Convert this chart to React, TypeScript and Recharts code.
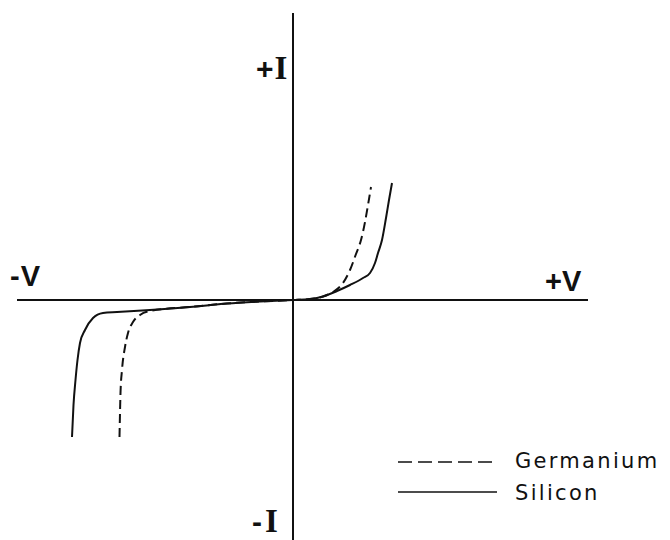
import { Line, LineChart, ReferenceLine, XAxis, YAxis } from "recharts";

// voltage / current readings, arbitrary units (origin at the axes crossing)
const siliconV = [
  -2.21, -2.195, -2.175, -2.155, -2.13, -2.08, -2.0, -1.9, -1.76, -1.43, -1.03, -0.66, -0.33, 0,
  0.17, 0.3, 0.44, 0.57, 0.7, 0.77, 0.82, 0.85, 0.89, 0.93, 0.96, 0.99,
];
const siliconI = [
  -1.37, -1.05, -0.8, -0.6, -0.43, -0.3, -0.18, -0.13, -0.12, -0.1, -0.07, -0.035, -0.015, 0,
  0.01, 0.035, 0.09, 0.15, 0.22, 0.27, 0.37, 0.47, 0.6, 0.82, 1.0, 1.17,
];

const germaniumV = [
  -1.735, -1.73, -1.725, -1.71, -1.68, -1.65, -1.6, -1.53, -1.43, -1.03, -0.66, -0.33, 0,
  0.17, 0.3, 0.4, 0.5, 0.57, 0.63, 0.68, 0.72, 0.75, 0.78,
];
const germaniumI = [
  -1.37, -1.13, -0.93, -0.7, -0.47, -0.33, -0.22, -0.15, -0.11, -0.07, -0.035, -0.015, 0,
  0.01, 0.035, 0.08, 0.17, 0.3, 0.46, 0.6, 0.78, 0.95, 1.13,
];

const legendNames = ["Germanium", "Silicon"];

const silicon = siliconV.map((v, k) => ({ v, i: siliconI[k] }));
const germanium = germaniumV.map((v, k) => ({ v, i: germaniumI[k] }));

const ink = "#111";
const sans = "'Liberation Sans', Arial, sans-serif";
const serif = "'Liberation Serif', serif";

export default function App() {
  return (
    <div style={{ position: "absolute", left: 0, top: 0, width: 670, height: 540, background: "#fff" }}>
      <LineChart width={670} height={540} margin={{ top: 0, right: 0, bottom: 0, left: 0 }}>
        <XAxis type="number" dataKey="v" domain={[-2.93, 3.77]} hide allowDataOverflow />
        <YAxis type="number" dataKey="i" domain={[-2.4, 3.0]} hide allowDataOverflow />
        <ReferenceLine
          segment={[{ x: 0, y: 2.87 }, { x: 0, y: -2.4 }]}
          stroke={ink}
          strokeWidth={2}
        />
        <ReferenceLine
          segment={[{ x: -2.76, y: 0 }, { x: 2.95, y: 0 }]}
          stroke={ink}
          strokeWidth={2}
        />
        <Line
          data={germanium}
          dataKey="i"
          type="monotone"
          stroke={ink}
          strokeWidth={2}
          strokeDasharray="9 5"
          strokeLinecap="butt"
          dot={false}
          activeDot={false}
          isAnimationActive={false}
        />
        <Line
          data={silicon}
          dataKey="i"
          type="monotone"
          stroke={ink}
          strokeWidth={2}
          strokeLinecap="butt"
          dot={false}
          activeDot={false}
          isAnimationActive={false}
        />
      </LineChart>

      <svg
        width={670}
        height={540}
        style={{ position: "absolute", left: 0, top: 0, pointerEvents: "none" }}
      >
        <text x={256} y={79} fontFamily={sans} fontSize={30} fontWeight={600} fill={ink}>
          +<tspan fontFamily={serif} fontSize={33} fontWeight={700} dx={1}>I</tspan>
        </text>
        <text x={252} y={532} fontFamily={sans} fontSize={30} fontWeight={600} fill={ink}>
          -<tspan fontFamily={serif} fontSize={33} fontWeight={700} dx={3}>I</tspan>
        </text>
        <text x={10} y={286} fontFamily={sans} fontSize={29} fontWeight={600} fill={ink} letterSpacing={1}>
          -V
        </text>
        <text x={545} y={291} fontFamily={sans} fontSize={29} fontWeight={600} fill={ink}>
          +V
        </text>

        <line x1={398} y1={462} x2={497} y2={462} stroke={ink} strokeWidth={1.5} strokeDasharray="14 6" />
        <line x1={398} y1={492} x2={497} y2={492} stroke={ink} strokeWidth={1.5} />
        <text x={515} y={468} fontFamily="'DejaVu Sans', sans-serif" fontSize={21} letterSpacing={2.3} fill={ink}>
          {legendNames[0]}
        </text>
        <text x={515} y={500} fontFamily="'DejaVu Sans', sans-serif" fontSize={21} letterSpacing={2.3} fill={ink}>
          {legendNames[1]}
        </text>
      </svg>
    </div>
  );
}
